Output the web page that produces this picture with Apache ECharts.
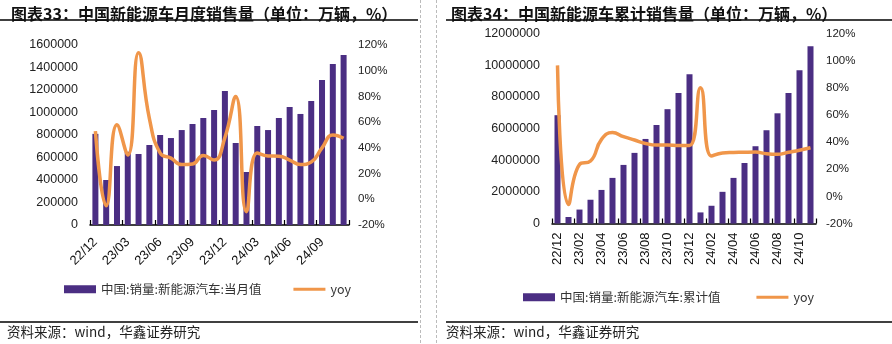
<!DOCTYPE html>
<html>
<head>
<meta charset="utf-8">
<script src="https://cdn.jsdelivr.net/npm/echarts@6/dist/echarts.min.js"></script>
<style>
html,body{margin:0;padding:0;background:#fff;}
#c{width:892px;height:344px;}
</style>
</head>
<body>
<div id="c"></div>
<script>
// Monthly chart data
const monthCats = ['22/12','23/01','23/02','23/03','23/04','23/05','23/06','23/07','23/08','23/09','23/10','23/11','23/12','24/01','24/02','24/03','24/04','24/05','24/06','24/07','24/08','24/09','24/10','24/11'];
const monthSales = [810000,400000,524000,651000,631000,711000,800000,773000,844000,898000,951000,1022000,1191000,729000,471000,880000,844000,951000,1049000,987000,1102000,1289000,1431000,1511000];
const monthYoy = [53,-5,58,34.5,114,63,36,32,27,27.5,34,30.5,48,80,-9.6,36,33.7,33.5,30.5,27,29,40,50,47.5];

// Cumulative chart data
const cumCats = monthCats;
const cumSales = [6840000,410000,880000,1500000,2120000,2880000,3700000,4460000,5340000,6220000,7220000,8240000,9430000,700000,1120000,2000000,2880000,3820000,4880000,5890000,6960000,8240000,9680000,11200000];
const cumYoy = [96.5,-6,23.5,26,42,47,44,41.5,39,37.8,37.8,37.5,37.5,80,29.7,32,32.3,32.5,32.6,31.4,31,32.5,34,35.8];

const leftTitle = '图表33：中国新能源车月度销售量（单位：万辆，%）';
const rightTitle = '图表34：中国新能源车累计销售量（单位：万辆，%）';
const leftBarName = '中国:销量:新能源汽车:当月值';
const rightBarName = '中国:销量:新能源汽车:累计值';
const sourceText = '资料来源：wind，华鑫证券研究';

const BAR = '#4B2E83';
const LINE = '#F0964A';
const NUM_FONT = '"Liberation Sans", Arial, sans-serif';
const CJK_FONT = '"Noto Sans CJK SC", sans-serif';
// thin line legend icon (tiny corner specks define an 8px-tall box)
const LINE_ICON = 'path://M0,0h0.01v0.01h-0.01z M0,2.6h32v2.8h-32z M31.99,7.99h0.01v0.01h-0.01z';

const chart = echarts.init(document.getElementById('c'), null, {renderer:'canvas'});

function xAxis(gridIndex, cats, rotate, interval, fontSize, margin) {
  return {
    type:'category', gridIndex, data:cats,
    axisLine:{lineStyle:{color:'#000', width:1.5}},
    axisTick:{show:true, inside:true, length:5, interval:interval, lineStyle:{color:'#000', width:1.2}},
    axisLabel:{rotate:rotate, interval:interval, fontSize:fontSize, color:'#111', fontFamily:NUM_FONT, margin:margin},
    splitLine:{show:false}
  };
}
function yAxisLeft(gridIndex, max, interval, fontSize) {
  return {
    type:'value', gridIndex, position:'left', min:0, max:max, interval:interval,
    axisLine:{show:false}, axisTick:{show:false}, splitLine:{show:false},
    axisLabel:{fontSize:fontSize, color:'#222', fontFamily:NUM_FONT, margin:12, formatter:v => String(v)}
  };
}
function yAxisRight(gridIndex, fontSize, margin) {
  return {
    type:'value', gridIndex, position:'right', min:-20, max:120, interval:20,
    axisLine:{show:false}, axisTick:{show:false}, splitLine:{show:false},
    axisLabel:{fontSize:fontSize, color:'#222', fontFamily:NUM_FONT, margin:margin, formatter:'{value}%'}
  };
}

const option = {
  animation:false,
  backgroundColor:'#fff',
  title:[
    {text:leftTitle, left:6, top:1, textStyle:{fontSize:16, fontWeight:'bold', color:'#111', fontFamily:CJK_FONT}},
    {text:rightTitle, left:446, top:1, textStyle:{fontSize:16, fontWeight:'bold', color:'#111', fontFamily:CJK_FONT}}
  ],
  grid:[
    {left:90, top:45, width:259, height:180},
    {left:552, top:33.5, width:264, height:190}
  ],
  xAxis:[
    xAxis(0, monthCats, 45, 2, 13, 15),
    xAxis(1, cumCats, 90, 1, 13, 9)
  ],
  yAxis:[
    yAxisLeft(0, 1600000, 200000, 12.5),
    yAxisRight(0, 11.5, 9),
    yAxisLeft(1, 12000000, 2000000, 12.5),
    yAxisRight(1, 11.5, 10)
  ],
  legend:[
    {left:59, top:278, itemWidth:32, itemHeight:8, itemGap:32,
     textStyle:{fontSize:12.5, color:'#333', fontFamily:CJK_FONT},
     data:[{name:leftBarName, icon:'rect'}, {name:'yoy', icon:LINE_ICON}]},
    {left:518, top:286, itemWidth:32, itemHeight:8, itemGap:36,
     textStyle:{fontSize:12.5, color:'#333', fontFamily:CJK_FONT},
     data:[{name:rightBarName, icon:'rect'}, {name:'yoy', icon:LINE_ICON}]}
  ],
  series:[
    {name:leftBarName, type:'bar', xAxisIndex:0, yAxisIndex:0, data:monthSales, barWidth:6, itemStyle:{color:BAR}},
    {name:'yoy', type:'line', xAxisIndex:0, yAxisIndex:1, data:monthYoy, smooth:0.5, symbol:'none', z:5,
     lineStyle:{color:LINE, width:3.5}, itemStyle:{color:LINE}},
    {name:rightBarName, type:'bar', xAxisIndex:1, yAxisIndex:2, data:cumSales, barWidth:6, itemStyle:{color:BAR}},
    {name:'yoy', type:'line', xAxisIndex:1, yAxisIndex:3, data:cumYoy, smooth:0.5, symbol:'none', z:5,
     lineStyle:{color:LINE, width:3.5}, itemStyle:{color:LINE}}
  ],
  graphic:[
    {type:'line', shape:{x1:0, y1:20, x2:418, y2:20}, style:{stroke:'#000', lineWidth:1.5}},
    {type:'line', shape:{x1:446, y1:20, x2:892, y2:20}, style:{stroke:'#000', lineWidth:1.5}},
    {type:'line', shape:{x1:0, y1:322, x2:418, y2:322}, style:{stroke:'#000', lineWidth:1.5}},
    {type:'line', shape:{x1:446, y1:322, x2:892, y2:322}, style:{stroke:'#000', lineWidth:1.5}},
    {type:'line', shape:{x1:420.5, y1:0, x2:420.5, y2:344}, style:{stroke:'#bbb', lineWidth:1, lineDash:[3,2]}},
    {type:'line', shape:{x1:436.5, y1:0, x2:436.5, y2:344}, style:{stroke:'#bbb', lineWidth:1, lineDash:[3,2]}},
    {type:'text', left:7, top:325, style:{text:sourceText, fontSize:13.5, fill:'#222', fontFamily:CJK_FONT}},
    {type:'text', left:446, top:325, style:{text:sourceText, fontSize:13.5, fill:'#222', fontFamily:CJK_FONT}}
  ]
};
chart.setOption(option);
</script>
</body>
</html>
